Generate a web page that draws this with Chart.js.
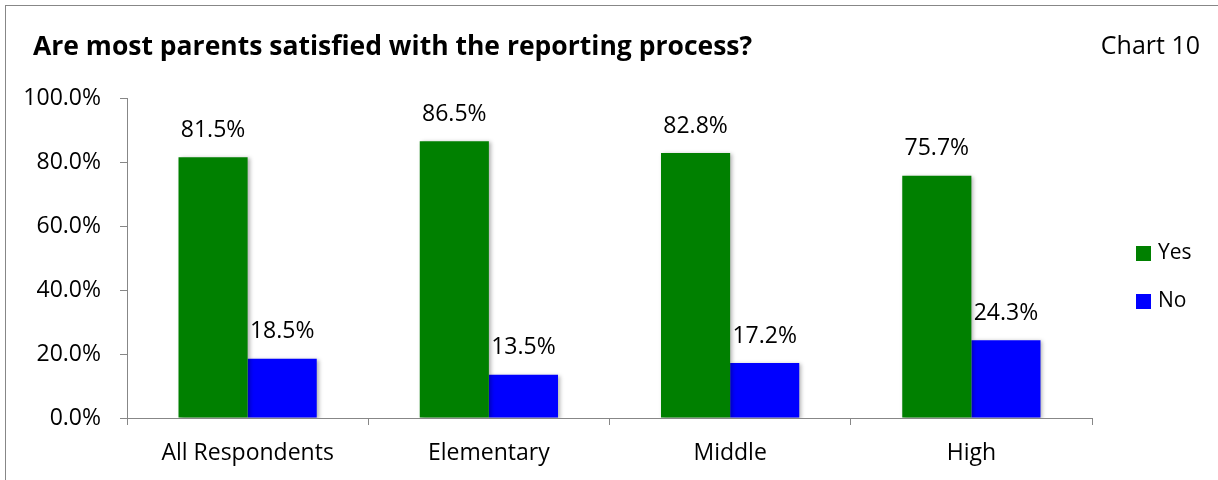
<!DOCTYPE html>
<html lang="en">
<head>
    <meta charset="UTF-8">
    <title>Chart 10</title>
    <script src="https://cdn.jsdelivr.net/npm/chart.js"></script>
    <style>
        html, body { margin: 0; padding: 0; background: #fff; overflow: hidden; }
        #wrap { width: 1218px; height: 480px; }
    </style>
</head>
<body>
    <div id="wrap"><canvas id="grafico"></canvas></div>

    <script>
        // === DATA ===
        const categorias = ['All Respondents', 'Elementary', 'Middle', 'High'];
        const yes = [81.5, 86.5, 82.8, 75.7];
        const no = [18.5, 13.5, 17.2, 24.3];
        const tituloTexto = 'Are most parents satisfied with the reporting process?';
        const chartNumero = 'Chart 10';

        const fonte = '"Open Sans", Lato, sans-serif';

        // frame, title, "Chart 10" label and the legend on the right
        const moldura = {
            id: 'moldura',
            afterDraw(chart) {
                const ctx = chart.ctx;
                const area = chart.chartArea;
                ctx.save();
                ctx.strokeStyle = '#878787';
                ctx.lineWidth = 1;
                ctx.strokeRect(5.5, 5.5, 1400, 700);

                ctx.fillStyle = '#000';
                ctx.textBaseline = 'middle';
                ctx.textAlign = 'left';
                ctx.font = 'bold 26.5px ' + fonte;
                ctx.fillText(tituloTexto, 33, 47);

                ctx.font = '25px ' + fonte;
                ctx.textAlign = 'right';
                ctx.fillText(chartNumero, 1200, 47);

                // legend
                ctx.textAlign = 'left';
                ctx.font = '21px ' + fonte;
                chart.data.datasets.forEach((ds, i) => {
                    const x = area.right + 44;
                    const y = area.top + 155 + i * 48;
                    ctx.fillStyle = ds.backgroundColor;
                    ctx.fillRect(x, y - 7, 15, 15);
                    ctx.fillStyle = '#000';
                    ctx.fillText(ds.label, x + 22, y);
                });
                ctx.restore();
            }
        };

        // soft shadow under the bars + value labels above them
        const rotulos = {
            id: 'rotulos',
            beforeDatasetsDraw(chart) {
                const ctx = chart.ctx;
                ctx.save();
                ctx.shadowColor = 'rgba(0,0,0,0.3)';
                ctx.shadowBlur = 4;
                ctx.shadowOffsetX = 2;
                ctx.shadowOffsetY = 1;
            },
            afterDatasetsDraw(chart) {
                const ctx = chart.ctx;
                ctx.restore();
                ctx.save();
                ctx.fillStyle = '#000';
                ctx.font = '23px ' + fonte;
                ctx.textAlign = 'center';
                ctx.textBaseline = 'middle';
                chart.data.datasets.forEach((ds, i) => {
                    chart.getDatasetMeta(i).data.forEach((bar, j) => {
                        ctx.fillText(ds.data[j].toFixed(1) + '%', bar.x, bar.y - 27);
                    });
                });
                ctx.restore();
            }
        };

        new Chart(document.getElementById('grafico'), {
            type: 'bar',
            data: {
                labels: categorias,
                datasets: [
                    { label: 'Yes', data: yes, backgroundColor: '#008000' },
                    { label: 'No', data: no, backgroundColor: '#0000ff' }
                ]
            },
            options: {
                responsive: true,
                maintainAspectRatio: false,
                animation: false,
                categoryPercentage: 0.573,
                barPercentage: 1,
                layout: { padding: { left: 20, top: 98, right: 126, bottom: 0 } },
                scales: {
                    x: {
                        grid: { drawOnChartArea: false, drawTicks: true, tickLength: 7, color: '#878787', offset: true },
                        border: { color: '#878787' },
                        ticks: { color: '#000', font: { family: fonte, size: 23 }, padding: 15 },
                        afterFit: (scale) => { scale.height = 62; }
                    },
                    y: {
                        min: 0,
                        max: 100,
                        ticks: {
                            stepSize: 20,
                            color: '#000',
                            font: { family: fonte, size: 23 },
                            padding: 19,
                            callback: v => v.toFixed(1) + '%'
                        },
                        grid: { drawOnChartArea: false, drawTicks: true, tickLength: 7, color: '#878787' },
                        border: { color: '#878787' },
                        afterFit: (scale) => { scale.width = 107; }
                    }
                },
                plugins: {
                    legend: { display: false },
                    title: { display: false },
                    tooltip: { enabled: false }
                }
            },
            plugins: [moldura, rotulos]
        });
    </script>
</body>
</html>
